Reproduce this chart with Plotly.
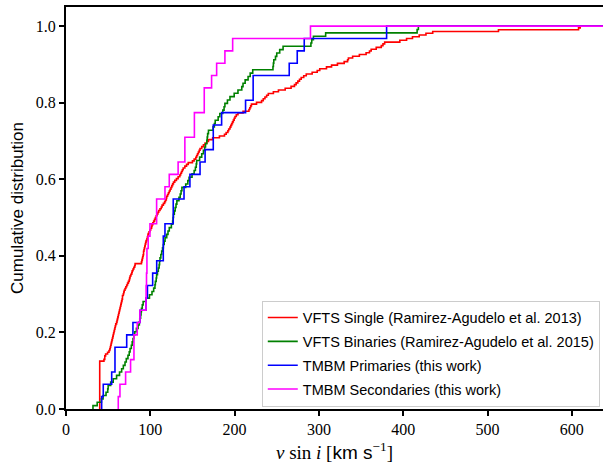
import numpy as np
import plotly.graph_objects as go

# v sin i values (km/s)
vfts_single = [40]*27 + [
    45, 46, 46, 47, 49.3, 51, 52, 52.5, 53, 53.5, 54, 54.5, 55, 55.5, 56,
    56.5, 57, 57.5, 58, 58.5, 59, 60, 60.5, 61, 61.5, 62, 62.5, 63,
    63.5, 64, 64.5, 65, 65.5, 66, 66.5, 67, 67, 68, 68.5, 69, 70,
    71, 72, 73, 74, 75, 75.5, 76, 77, 78, 78.5, 79.5, 80.5, 81.5,
    82, 89.5, 90, 90.5, 91, 91.5, 92, 92, 92.5, 93, 93.5, 94, 94.5, 95,
    96, 96.5, 97, 97.5, 98.5, 99.5, 100.5, 101.5, 102, 103, 104,
    105, 106, 107, 108, 109, 110, 111.5, 113, 114, 115.5,
    117, 118, 119, 119.5, 120.5, 121.5, 122.5, 123.5, 124.5, 125.5, 126.5, 127.5,
    129, 131, 133, 135, 136, 137, 138, 139, 141, 143, 145, 150,
    152, 154, 155, 156, 157, 158, 159, 161, 163, 165, 167, 169,
    174, 182, 188, 190, 192, 193, 194.5, 195.5, 196.5, 197.5, 198.5, 199.5, 200.5,
    202, 204, 210, 217, 218, 219, 220, 226, 232, 234, 236, 238, 240,
    246, 252, 260, 267, 271, 273, 275, 277, 279, 282, 285, 292, 298, 301,
    309, 315, 322, 330, 334, 335, 340, 348, 356, 360, 362, 368, 374, 376, 378,
    396, 404, 411, 419, 427, 435, 513, 608, 610]

vfts_binaries = [
    32, 37, 42, 44, 47.5, 49.5, 50, 53, 56, 60, 63.5, 66, 68, 70, 71.5, 73.5,
    75, 76, 77.5, 78.5, 79.5, 80.5, 81.5, 83.5, 85.5, 87, 87.5, 88.5, 89, 89.5,
    90.5, 91.5, 95, 99, 102, 104, 105.5, 106, 107, 107.5, 108.5, 109.5,
    110.5, 111, 111.5, 112.5, 113.5, 114.5, 115.5, 116.5, 117.5, 119.5,
    121, 122.5, 125, 126.5, 127, 127.5, 128.5, 129.5, 130.5, 131.5, 134, 135.5,
    136.5, 137.5, 142, 144.5, 146, 149.5, 152, 153.5, 154.5, 155, 158.5,
    161, 163, 164.5, 165.5, 167, 167.5, 168, 169, 174.5, 176, 177, 180.5,
    182.5, 186, 187.5, 188.5, 191.5, 194.5, 199.5, 204, 208.5, 210, 212.5,
    216, 218.5, 221.5, 245.5, 246, 246.5, 248.5, 250, 253.5, 257.5,
    290.5, 291.5, 293.5, 308, 416.5, 418]

tmbm_primaries = [
    42.3, 44.2, 54.2, 58.1, 58.1, 72, 79.4, 87.8, 94.9, 96.6, 102.8, 107.6,
    115.4, 115.4, 117.4, 127.2, 127.2, 140, 147, 159, 165, 174.7, 174.7,
    184.6, 213, 222, 222, 264.8, 274.3, 282.6, 380.3]

tmbm_secondaries = [
    62, 64, 70.7, 76.6, 80.6, 80.6, 84.5, 87.7, 94.9, 95, 95.5, 96, 96,
    97.5, 99.6, 107.5, 107.5, 117.4, 122.5, 133, 141, 141, 152.3, 152.3,
    164, 164, 172.7, 178.7, 188.5, 197.7, 290]

series = [
    ("VFTS Single (Ramirez-Agudelo et al. 2013)", vfts_single, "#ff0000"),
    ("VFTS Binaries (Ramirez-Agudelo et al. 2015)", vfts_binaries, "#008000"),
    ("TMBM Primaries (this work)", tmbm_primaries, "#0000ff"),
    ("TMBM Secondaries (this work)", tmbm_secondaries, "#ff00ff"),
]

X_END = 700

fig = go.Figure()
for i, (name, vals, col) in enumerate(series):
    v = np.sort(np.asarray(vals, dtype=float))
    n = len(v)
    xs = np.concatenate([[v[0]], v, [X_END]])
    ys = np.concatenate([[0.0], np.arange(1, n + 1) / n, [1.0]])
    fig.add_trace(go.Scatter(
        x=xs, y=ys, mode="lines", name=name, line_shape="hv",
        line=dict(color=col, width=1.6), legendgroup=f"g{i}",
    ))

serif = "Liberation Serif"
sans = "Liberation Sans"

fig.update_layout(
    width=603, height=468,
    margin=dict(l=66, r=0, t=7, b=59),
    paper_bgcolor="white", plot_bgcolor="white",
    showlegend=True,
    legend=dict(
        x=0.994, y=0.006, xanchor="right", yanchor="bottom",
        bgcolor="rgba(255,255,255,0.85)", bordercolor="#cccccc", borderwidth=1,
        font=dict(family=sans, size=14.5, color="black"),
        tracegroupgap=2, itemwidth=30,
    ),
    xaxis=dict(
        range=[0, 637], tickvals=[0, 100, 200, 300, 400, 500, 600],
        ticks="outside", ticklen=5, tickwidth=1.5, tickcolor="black",
        showline=True, linewidth=2, linecolor="black", mirror=True,
        showgrid=False, zeroline=False,
        tickfont=dict(family=serif, size=16, color="black"),
        title=dict(
            text='<i>v</i> sin <i>i</i> [<span style="font-family:Liberation Sans">km s</span><sup>−1</sup>]',
            font=dict(family=serif, size=19, color="black"), standoff=8),
    ),
    yaxis=dict(
        range=[0, 1.05], tickvals=[0, 0.2, 0.4, 0.6, 0.8, 1.0], tickformat=".1f",
        ticks="outside", ticklen=5, tickwidth=1.5, tickcolor="black",
        showline=True, linewidth=2, linecolor="black",
        showgrid=False, zeroline=False,
        tickfont=dict(family=serif, size=16, color="black"),
        title=dict(text="Cumulative distribution",
                   font=dict(family=sans, size=17, color="black"), standoff=8),
    ),
)

fig.write_html("out.html")
